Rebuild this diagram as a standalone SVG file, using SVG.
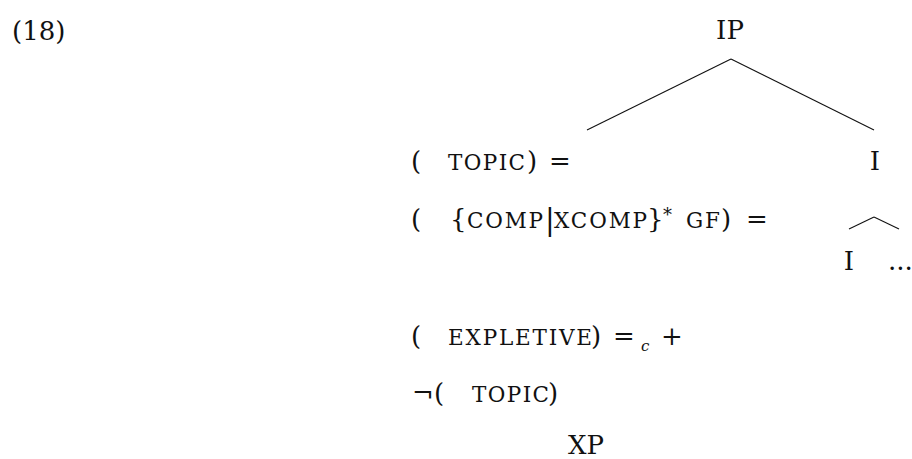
<svg xmlns="http://www.w3.org/2000/svg" width="912" height="459" viewBox="0 0 912 459">
<style>
text{font-family:"DejaVu Serif","Liberation Serif",serif;fill:#111;font-size:26px}
.sc{font-size:21.5px}
.sub{font-size:15px;font-style:italic}
.sup{font-size:18px}
.edge{stroke:#111;stroke-width:1.1;fill:none}
</style>
<rect width="912" height="459" fill="#fff"/>
<g id="label-18"><text x="12" y="40">(18)</text></g>
<g id="node-IP"><text x="730" y="39" text-anchor="middle">IP</text></g>
<g id="node-topic-eq">
<text x="411" y="170">(</text>
<text class="sc" x="448" y="170" textLength="77" lengthAdjust="spacing">TOPIC</text>
<text x="527" y="170">)</text>
<text x="549" y="170">=</text>
</g>
<g id="node-comp-eq">
<text x="411" y="228">(</text>
<text x="450" y="228">{</text>
<text class="sc" x="467" y="228" textLength="76" lengthAdjust="spacing">COMP</text>
<text x="545" y="230" style="font-size:29px">|</text>
<text class="sc" x="554" y="228" textLength="93" lengthAdjust="spacing">XCOMP</text>
<text x="647" y="228">}</text>
<text class="sup" x="663" y="221">*</text>
<text class="sc" x="686" y="228" textLength="34" lengthAdjust="spacing">GF</text>
<text x="721" y="228">)</text>
<text x="746" y="228">=</text>
</g>
<g id="node-I"><text x="875" y="170" text-anchor="middle">I</text></g>
<g id="node-I-dots">
<text x="849" y="270" text-anchor="middle">I</text>
<text x="888" y="270">...</text>
</g>
<g id="node-expletive">
<text x="411" y="345">(</text>
<text class="sc" x="448" y="345" textLength="144" lengthAdjust="spacing">EXPLETIVE</text>
<text x="591" y="345">)</text>
<text x="613" y="345">=</text>
<text class="sub" x="641" y="351">c</text>
<text x="661" y="345">+</text>
</g>
<g id="node-neg-topic">
<text x="412" y="402">¬</text>
<text x="434" y="402">(</text>
<text class="sc" x="472" y="402" textLength="77" lengthAdjust="spacing">TOPIC</text>
<text x="548" y="402">)</text>
</g>
<g id="node-XP"><text x="586" y="454" text-anchor="middle">XP</text></g>
<g id="connectors">
<line class="edge" x1="731" y1="59" x2="587" y2="130"/>
<line class="edge" x1="731" y1="59" x2="874" y2="130"/>
<line class="edge" x1="874" y1="217" x2="849" y2="229"/>
<line class="edge" x1="874" y1="217" x2="899" y2="229"/>
</g>
</svg>
